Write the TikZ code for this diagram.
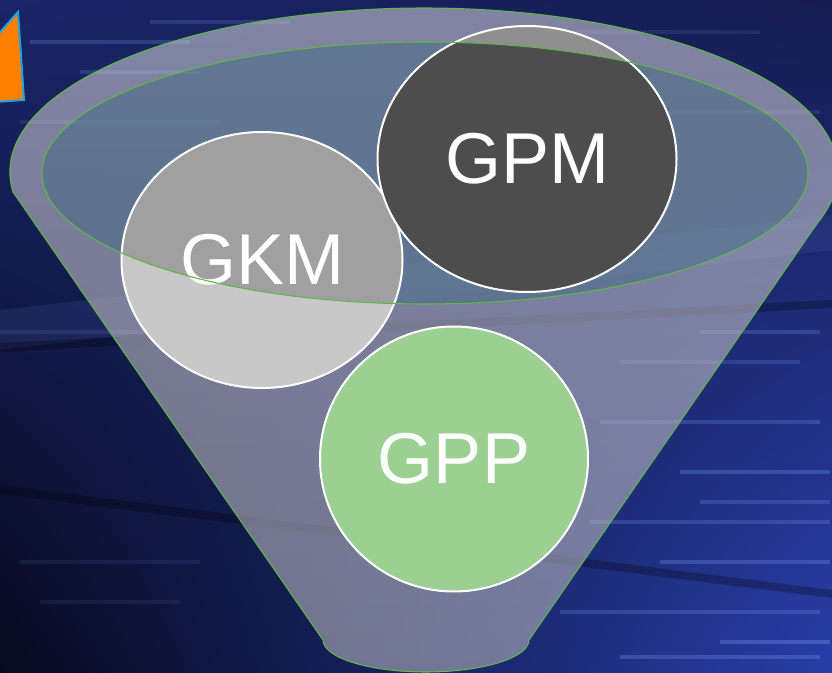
\documentclass[tikz,border=0pt]{standalone}
\usepackage{fontspec}
\setmainfont{Liberation Sans}
\usetikzlibrary{shapes.geometric,shadings}

\definecolor{funnelgreen}{RGB}{96,182,72}
\definecolor{bgtl}{RGB}{26,38,106}
\definecolor{bgtr}{RGB}{22,28,80}
\definecolor{bgbl}{RGB}{7,9,30}
\definecolor{bgbr}{RGB}{40,62,168}
\definecolor{streakblue}{RGB}{120,150,235}
\definecolor{funneltop}{RGB}{205,205,212}
\definecolor{funnelbottom}{RGB}{180,180,186}
\definecolor{rimfill}{RGB}{40,95,120}
\definecolor{gkmout}{RGB}{200,200,200}
\definecolor{gkmin}{RGB}{160,160,160}
\definecolor{gpmout}{RGB}{143,143,143}
\definecolor{gpmin}{RGB}{77,77,77}
\definecolor{gppfill}{RGB}{156,208,146}
\definecolor{flagorange}{RGB}{255,127,0}
\definecolor{flagblue}{RGB}{26,163,232}

\newcommand{\labelfont}{\fontsize{54}{60}\selectfont}

\begin{document}
\begin{tikzpicture}[x=0.75pt,y=-0.75pt,
    blob/.style={ellipse,draw=white,line width=1.5pt,text=white,
      font=\labelfont,inner sep=0pt,
      path picture={\fill[#1] (rimc) ellipse [x radius=383,y radius=131];}},
    rimline/.style={draw=funnelgreen,line width=0.8pt}]
  \useasboundingbox (0,0) rectangle (832,673);

  % background
  \shade[upper left=bgtl,upper right=bgtr,lower left=bgbl,lower right=bgbr]
    (0,0) rectangle (832,673);
  \fill[streakblue,opacity=0.10] (0,310) -- (832,215) -- (832,250) -- (0,350) -- cycle;
  \fill[black,opacity=0.25] (0,343) -- (832,300) -- (832,308) -- (0,352) -- cycle;
  \fill[black,opacity=0.25] (0,485) -- (832,590) -- (832,598) -- (0,494) -- cycle;
  \foreach \x/\y/\w/\o in {30/40/160/0.25, 80/70/120/0.20, 20/120/200/0.15,
      150/20/140/0.20, 560/30/200/0.12, 640/110/180/0.15, 700/330/120/0.25,
      620/360/180/0.20, 600/420/220/0.25, 680/470/150/0.30, 590/520/240/0.25,
      660/560/170/0.30, 560/610/260/0.25, 20/560/180/0.10, 40/600/140/0.10,
      720/640/110/0.35, 0/330/260/0.15, 700/500/130/0.25, 620/655/200/0.30}
    \fill[streakblue,opacity=\o] (\x,\y) rectangle ++(\w,4);

  % corner flag
  \filldraw[fill=flagorange,draw=flagblue,line width=1.5pt]
    (-5,38) -- (18,12) -- (24,100) -- (-5,102) -- cycle;

  % funnel
  \coordinate (rimc) at (425,173);
  \shade[top color=funneltop,bottom color=funnelbottom,fill opacity=0.58]
    (13,192) arc[start angle=173,end angle=378,x radius=414,y radius=164]
    -- (529,640) arc[start angle=0,end angle=180,x radius=103,y radius=32]
    -- cycle;
  \draw[rimline]
    (13,192) arc[start angle=173,end angle=378,x radius=414,y radius=164]
    -- (529,640) arc[start angle=0,end angle=180,x radius=103,y radius=32]
    -- cycle;
  \fill[rimfill,fill opacity=0.35] (rimc) ellipse [x radius=383,y radius=131];

  % circles
  \node[blob=gkmin,fill=gkmout,minimum width=210.75pt,minimum height=192pt]
    (gkm) at (262,260) {GKM};
  \node[blob=gpmin,fill=gpmout,minimum width=224.25pt,minimum height=199.5pt]
    (gpm) at (527,159) {GPM};
  \node[blob=gppfill,fill=gppfill,minimum width=201pt,minimum height=198.75pt]
    (gpp) at (454,459) {GPP};

  \draw[rimline] (rimc) ellipse [x radius=383,y radius=131];
\end{tikzpicture}
\end{document}
